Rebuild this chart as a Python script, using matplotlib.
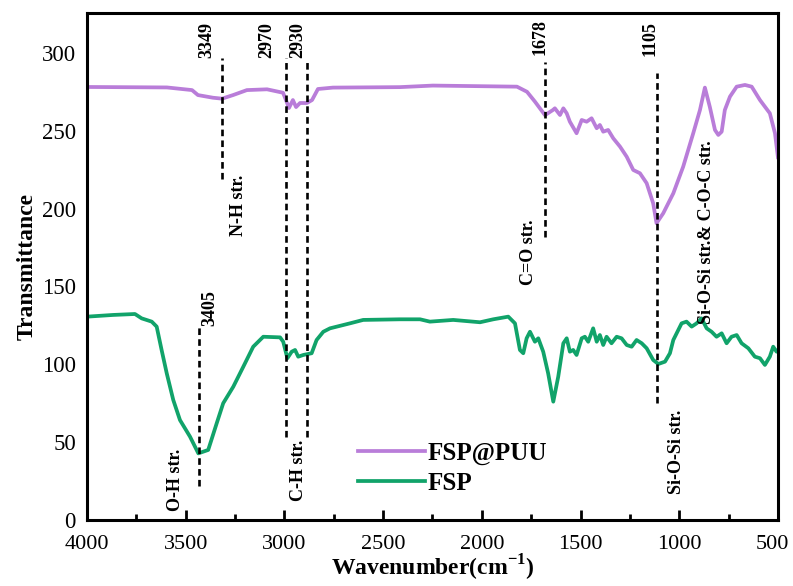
import matplotlib.pyplot as plt
import matplotlib.transforms as mtransforms
import numpy as np

# FSP@PUU spectrum
puu_wn = [4000, 3595, 3468, 3438, 3362, 3316, 3260, 3190, 3088, 3007, 2992, 2977, 2957,
          2941, 2921, 2886, 2860, 2830, 2754, 2415, 2248, 1822, 1771, 1731, 1680, 1640,
          1630, 1604, 1587, 1570, 1554, 1520, 1494, 1469, 1444, 1418, 1402, 1385, 1360,
          1334, 1300, 1266, 1233, 1199, 1165, 1132, 1115, 1081, 1030, 980, 929, 895, 870,
          845, 819, 802, 785, 769, 743, 709, 667, 633, 591, 541, 515, 500]
puu_t = [278.1, 277.8, 276.1, 272.9, 271.2, 270.6, 272.9, 276.1, 276.6, 274.4, 269.7, 264.6, 269.7,
         265.2, 267.8, 267.8, 269.7, 276.8, 277.7, 278.0, 279.0, 278.3, 275.0, 268.7, 260.0, 263.3,
         264.4, 260.1, 264.4, 261.2, 255.8, 248.4, 256.9, 255.8, 258.0, 251.6, 253.7, 249.4, 250.5,
         245.1, 239.8, 233.3, 224.8, 222.7, 216.3, 203.4, 190.6, 197.0, 209.8, 226.9, 248.4, 263.3, 277.7,
         265.3, 250.5, 247.3, 249.4, 263.3, 271.9, 278.3, 279.4, 278.3, 269.7, 261.2, 248.4, 233.0]

# FSP spectrum
fsp_wn = [4000, 3867, 3757, 3723, 3672, 3647, 3622, 3596, 3563, 3529, 3478, 3436, 3386, 3343,
          3310, 3259, 3208, 3158, 3107, 3022, 3006, 2985, 2963, 2946, 2930, 2904, 2862, 2837,
          2803, 2769, 2668, 2601, 2415, 2313, 2263, 2145, 2009, 1942, 1866, 1832, 1807, 1790,
          1773, 1756, 1731, 1714, 1689, 1664, 1638, 1613, 1587, 1570, 1554, 1537, 1520, 1494,
          1478, 1461, 1436, 1418, 1402, 1385, 1368, 1343, 1317, 1292, 1266, 1241, 1216, 1190,
          1165, 1132, 1106, 1072, 1047, 1030, 988, 963, 937, 912, 887, 861, 836, 811, 785, 760,
          735, 709, 684, 650, 617, 591, 566, 541, 524, 507, 500]
fsp_t = [130.6, 131.7, 132.3, 129.5, 127.4, 124.2, 109.2, 94.2, 77.1, 64.2, 53.5, 42.8, 45.0, 62.1,
         75.0, 85.6, 98.5, 111.3, 117.7, 117.3, 114.5, 103.9, 108.1, 109.2, 104.9, 106.0, 107.1, 115.6,
         120.9, 123.1, 126.3, 128.5, 128.9, 128.9, 127.4, 128.5, 127.0, 128.9, 130.6, 126.3, 109.2, 107.1,
         116.7, 120.9, 114.5, 116.7, 108.1, 94.2, 76.0, 92.0, 113.5, 116.7, 108.1, 109.2, 106.0, 116.7,
         117.7, 114.5, 123.1, 114.5, 118.8, 112.4, 117.7, 113.5, 117.7, 116.7, 112.4, 111.3, 115.6, 113.5,
         110.3, 102.8, 100.2, 101.7, 107.1, 115.6, 126.3, 127.4, 124.2, 126.3, 129.5, 123.1, 120.9, 117.7,
         119.9, 113.5, 117.7, 118.8, 113.5, 110.3, 104.9, 103.9, 99.6, 104.9, 111.3, 108.1, 109.0]

# marker lines: position, bottom, top
mark_wn = [3316, 2994, 2887, 1680, 1114, 3433]
mark_lo = [219, 53, 53, 182, 75, 22]
mark_hi = [297, 297, 296, 294, 287, 126]

# labels: text, x, y
labels = ['3349', '2970', '2930', '1678', '1105', '3405',
          'N-H str.', 'C=O str.', 'Si-O-Si str.& C-O-C str.', 'Si-O-Si str.', 'O-H str.', 'C-H str.']
label_x = [3392, 3088, 2931, 1706, 1148, 3377, 3235, 1766, 860, 1012, 3554, 2931]
label_y = [308, 308, 308, 310, 309, 136, 202, 172, 185, 44, 26, 32]

plt.rcParams['font.family'] = ['Liberation Serif', 'DejaVu Serif']
plt.rcParams['mathtext.fontset'] = 'custom'
plt.rcParams['mathtext.rm'] = 'Liberation Serif:bold'
plt.rcParams['mathtext.bf'] = 'Liberation Serif:bold'

fig = plt.figure(figsize=(7.93, 5.86), dpi=100)
ax = fig.add_axes([0.1097, 0.1126, 0.8713, 0.8652])

ax.plot(puu_wn, puu_t, color='#b97dd9', lw=2.7, label='FSP@PUU', solid_joinstyle='round')
ax.plot(fsp_wn, fsp_t, color='#11a36a', lw=2.7, label='FSP', solid_joinstyle='round')

ax.vlines(mark_wn, mark_lo, mark_hi, colors='black', linestyles=(0, (2.5, 1.6)), lw=1.9)

for t, x, y in zip(labels, label_x, label_y):
    ax.text(x, y, t, rotation=90, ha='center', va='center', fontsize=13, fontweight='bold')

ax.set_xlim(4000, 500)
ax.set_ylim(0, 325.6)
ax.set_xticks(np.arange(4000, 499, -500))
ax.set_xticks(np.arange(3750, 500, -500), minor=True)
ax.set_yticks(np.arange(0, 301, 50))
ax.tick_params(axis='x', direction='in', length=7, width=2, labelsize=16, pad=11)
ax.tick_params(axis='x', which='minor', direction='in', length=4, width=2)
ax.tick_params(axis='y', length=0, labelsize=16.5, pad=8)
for s in ax.spines.values():
    s.set_linewidth(2.2)

# nudge the last x label so it stays inside the picture
last = ax.get_xticklabels()[-1]
last.set_transform(last.get_transform() + mtransforms.ScaledTranslation(-4 / 72, 0, fig.dpi_scale_trans))

ax.set_xlabel('Wavenumber(cm$^{-1}$)', fontsize=17, fontweight='bold', labelpad=-1)
ax.set_ylabel('Transmittance', fontsize=17, fontweight='bold', labelpad=3)

ax.legend(loc='upper left', bbox_to_anchor=(0.392, 0.154), frameon=False,
          prop={'size': 18, 'weight': 'bold'}, borderpad=0, borderaxespad=0,
          handlelength=2.7, handletextpad=0.1, labelspacing=0.27)

fig.savefig('out.png', dpi=100)
